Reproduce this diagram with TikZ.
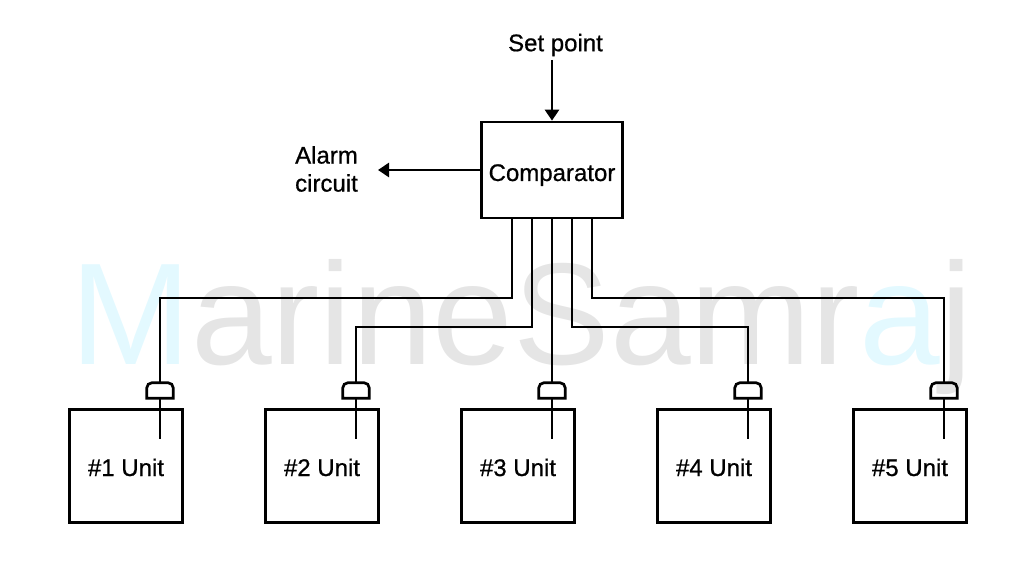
\documentclass[tikz,border=0pt]{standalone}
\usepackage{fontspec}
\usetikzlibrary{positioning}
\usetikzlibrary{arrows.meta}
\setmainfont[FakeBold=0.7]{Liberation Sans}
\newfontfamily\markfont{Liberation Sans}
\definecolor{markcyan}{HTML}{E3F9FF}
\definecolor{markgray}{HTML}{E5E5E5}
\tikzset{
  block/.style={draw,line width=2.7pt,minimum width=113pt,minimum height=113pt,inner sep=0pt,text height=20pt,text depth=0pt,font=\fontsize{24}{28}\selectfont},
  label/.style={inner sep=0pt,font=\fontsize{24}{28}\selectfont},
  wire/.style={line width=2.7pt},
  sensor/.style={inner sep=0pt,minimum width=26pt,minimum height=15pt},
  signal/.style={line width=2.7pt,-{Triangle[length=11pt,width=14pt]}}
}
\begin{document}
\begin{tikzpicture}[x=1pt,y=-1pt,node distance=196pt,on grid]
   \useasboundingbox (0,0) rectangle (1036,572);
   % watermark
   \node[inner sep=0pt,anchor=base] (mark) at (521.5,364) {\markfont\fontsize{145}{145}\selectfont\textcolor{markcyan}{M}\textcolor{markgray}{arineSamr}\textcolor{markcyan}{a}\textcolor{markgray}{j}};
   % blocks
   \node[block,minimum width=141.5pt,minimum height=96pt,text height=22pt] (comp) at (552,170) {Comparator};
   \node[block] (u1) at (126,466) {\#1 Unit};
   \node[block] (u2) [right=of u1] {\#2 Unit};
   \node[block] (u3) [right=of u2] {\#3 Unit};
   \node[block] (u4) [right=of u3] {\#4 Unit};
   \node[block] (u5) [right=of u4] {\#5 Unit};
   % labels
   \node[label] (setpt) at (555.5,45) {Set point};
   \node[label,align=left] (alarm) at (326.5,169) {Alarm\\circuit};
   \coordinate (alarmend) at (378,170);
   \coordinate (setend) at (552,60);
   \draw[signal] (setend) -- (comp.north);
   \draw[signal] (comp.west) -- (alarmend);
   % sensors and their probes
   \foreach \i in {1,...,5} {
     \node[sensor] (s\i) [above right=75.5pt and 34pt of u\i] {};
     \node[coordinate] (p\i) [above right=27pt and 34pt of u\i] {};
     \draw[wire,line join=miter] (s\i.south west) [rounded corners=5pt] -- (s\i.north west) -- (s\i.north east) [sharp corners] -- (s\i.south east) -- cycle;
     \draw[wire] (s\i.south) -- (p\i);
   }
   % wires to the comparator
   \coordinate (t1) at (512,218);
   \coordinate (t2) at (532,218);
   \coordinate (t4) at (572,218);
   \coordinate (t5) at (592,218);
   \draw[wire] (t1) |- (160,298) -- (s1.north);
   \draw[wire] (t2) |- (356,327) -- (s2.north);
   \draw[wire] (comp.south) -- (s3.north);
   \draw[wire] (t4) |- (748,327) -- (s4.north);
   \draw[wire] (t5) |- (944,298) -- (s5.north);
\end{tikzpicture}
\end{document}
